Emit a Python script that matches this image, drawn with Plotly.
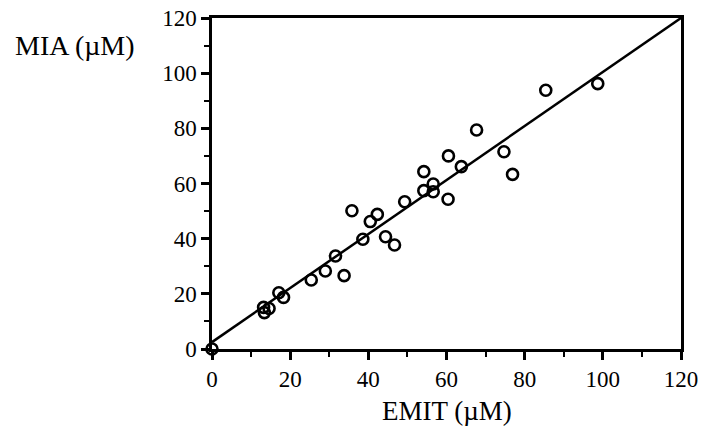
import plotly.graph_objects as go

# EMIT vs MIA measurements (µM)
emit = [0, 13.4, 13.2, 14.6, 17.1, 18.3, 25.4, 29.0, 31.6, 33.8, 35.8, 38.6, 40.5,
        42.3, 44.4, 46.7, 49.3, 54.2, 56.6, 56.6, 54.2, 60.4, 60.5, 63.8, 67.7,
        74.7, 76.9, 85.4, 98.7]
mia = [0, 13.2, 15.1, 14.7, 20.4, 18.7, 25.0, 28.3, 33.7, 26.6, 50.1, 39.8, 46.2,
       48.8, 40.7, 37.7, 53.4, 57.4, 59.8, 57.0, 64.3, 54.3, 70.0, 66.1, 79.4,
       71.5, 63.3, 93.8, 96.2]

# regression line endpoints
fit_x = [0, 120]
fit_y = [2.5, 120]

tick_vals = [0, 20, 40, 60, 80, 100, 120]
tick_text = ["0", "20", "40", "60", "80", "100", "120"]

font = "Liberation Serif, Times New Roman, serif"

fig = go.Figure()
fig.add_trace(go.Scatter(x=fit_x, y=fit_y, mode="lines",
                         line=dict(color="black", width=2.5),
                         showlegend=False, cliponaxis=False, hoverinfo="skip"))
fig.add_trace(go.Scatter(x=emit, y=mia, mode="markers",
                         marker=dict(symbol="circle-open", size=11, color="black",
                                     line=dict(width=2.6, color="black")),
                         showlegend=False, cliponaxis=False))

axis_common = dict(
    range=[0, 120], tickvals=tick_vals, ticktext=tick_text, automargin=False,
    ticklabeloverflow="allow",
    showgrid=False, zeroline=False, showline=True, linecolor="black",
    linewidth=2.5, mirror=True, ticks="outside", ticklen=8, tickwidth=2.5,
    tickcolor="black",
    minor=dict(ticks="outside", ticklen=5, tickwidth=2, tickcolor="black", dtick=10),
    tickfont=dict(family=font, size=23, color="black"),
)

fig.update_layout(
    width=702, height=436,
    margin=dict(l=212, r=21, t=18, b=87, autoexpand=False),
    paper_bgcolor="white", plot_bgcolor="white",
    xaxis=dict(**axis_common),
    yaxis=dict(**axis_common),
)
fig.add_annotation(text="MIA (µM)", xref="paper", yref="paper",
                   x=(75 - 212) / 469, y=(349 - 45) / 331,
                   xanchor="center", yanchor="middle", showarrow=False,
                   font=dict(family=font, size=28, color="black"))
fig.add_annotation(text="EMIT (µM)", xref="paper", yref="paper",
                   x=(447 - 212) / 469, y=(349 - 411) / 331,
                   xanchor="center", yanchor="middle", showarrow=False,
                   font=dict(family=font, size=27, color="black"))

# remove the default 8px page margin so the figure fills the window exactly
fig.write_html("out.html", config={"displayModeBar": False},
               post_script="document.body.style.margin='0';document.body.style.overflow='hidden';")
